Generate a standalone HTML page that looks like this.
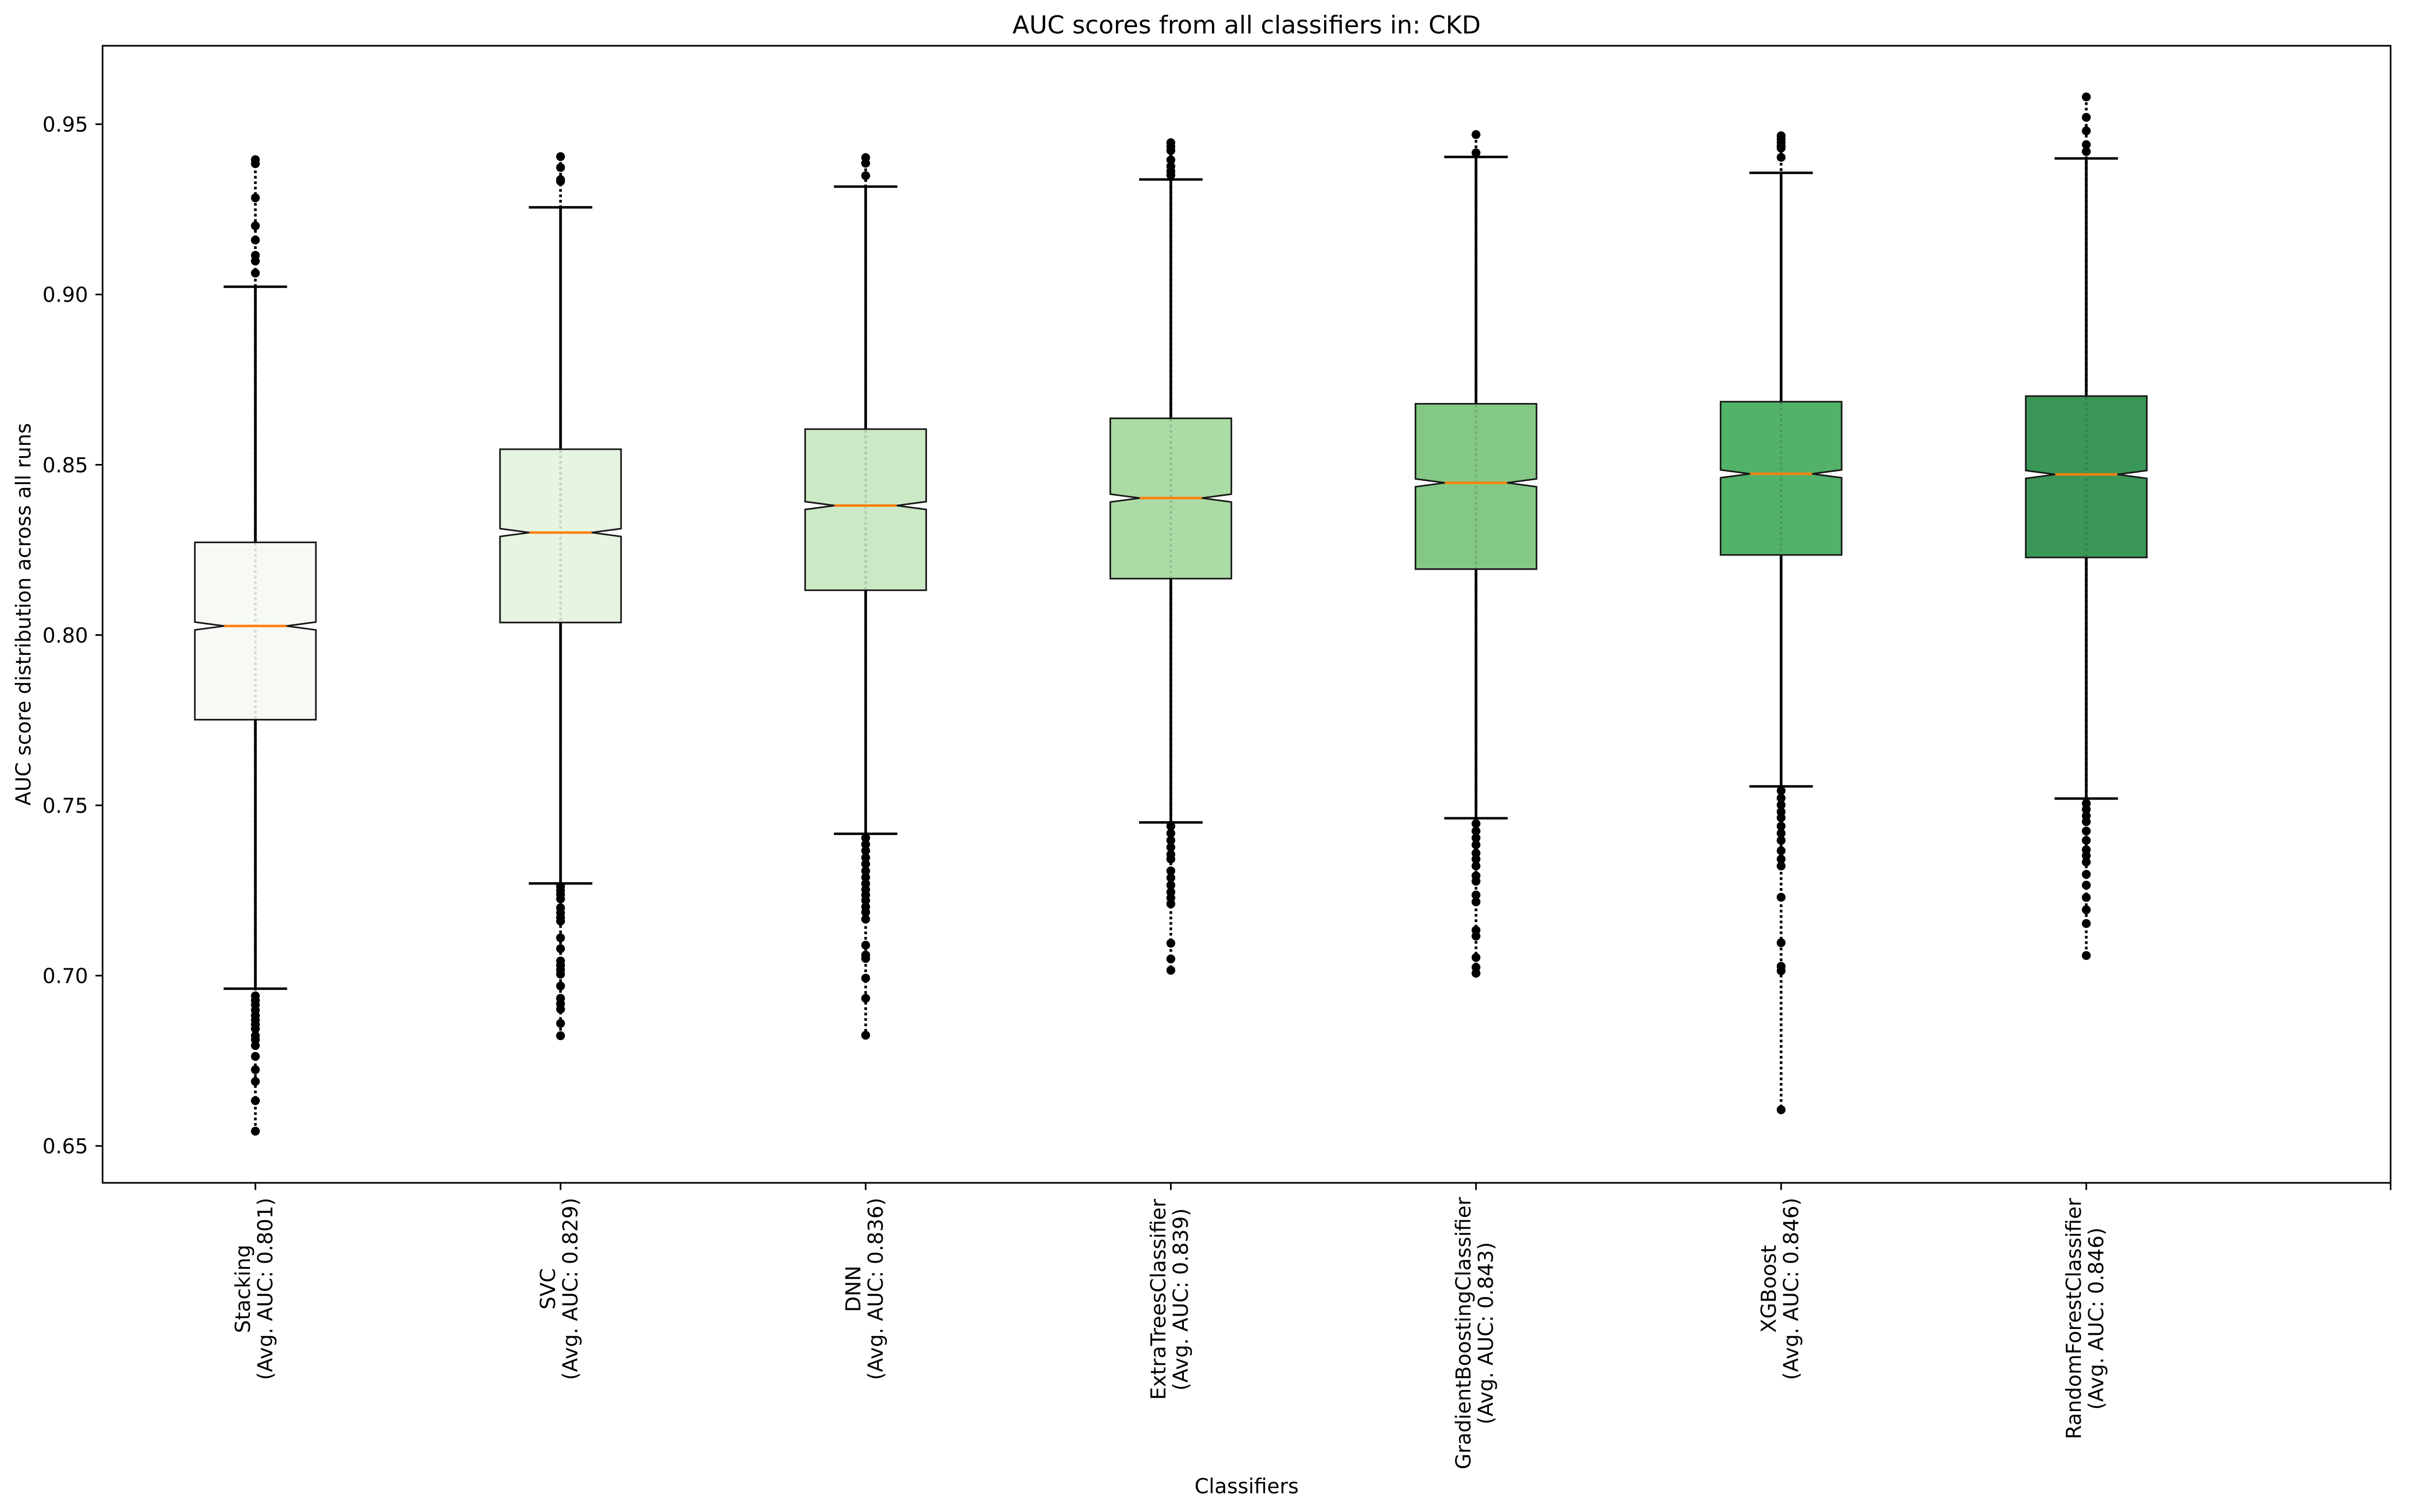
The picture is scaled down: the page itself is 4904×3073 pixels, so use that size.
<!DOCTYPE html>
<html>
<head>
<meta charset="utf-8">
<style>
html,body{margin:0;padding:0;background:#ffffff;}
svg{display:block;}
text{font-family:"DejaVu Sans","Liberation Sans",sans-serif;fill:#000;}
</style>
</head>
<body>
<svg width="4904" height="3073" viewBox="0 0 4904 3073" xmlns="http://www.w3.org/2000/svg">
<rect x="0" y="0" width="4904" height="3073" fill="#ffffff"/>

<!-- Title -->
<text x="2533.5" y="68" font-size="50" text-anchor="middle">AUC scores from all classifiers in: CKD</text>

<!-- full-range dotted data lines (black) -->
<g stroke="#000" stroke-width="5.5" stroke-dasharray="5.5 5.5" fill="none">
<line x1="519" y1="324.5" x2="519" y2="2299"/>
<line x1="1139.2" y1="318.3" x2="1139.2" y2="2105"/>
<line x1="1759.3" y1="320.3" x2="1759.3" y2="2104"/>
<line x1="2379.5" y1="290" x2="2379.5" y2="1972"/>
<line x1="2999.7" y1="273.5" x2="2999.7" y2="1978"/>
<line x1="3619.8" y1="276" x2="3619.8" y2="2255.5"/>
<line x1="4240" y1="197" x2="4240" y2="1942"/>
</g>

<!-- whiskers -->
<g stroke="#000" stroke-width="5.5" fill="none">
<line x1="519" y1="1102.3" x2="519" y2="582.7"/><line x1="519" y1="1462.7" x2="519" y2="2009.4"/>
<line x1="1139.2" y1="913" x2="1139.2" y2="421.4"/><line x1="1139.2" y1="1265.2" x2="1139.2" y2="1795.5"/>
<line x1="1759.3" y1="872.1" x2="1759.3" y2="379.2"/><line x1="1759.3" y1="1199.6" x2="1759.3" y2="1694.6"/>
<line x1="2379.5" y1="850.2" x2="2379.5" y2="364.8"/><line x1="2379.5" y1="1176" x2="2379.5" y2="1671.5"/>
<line x1="2999.7" y1="820.6" x2="2999.7" y2="319"/><line x1="2999.7" y1="1156.7" x2="2999.7" y2="1663"/>
<line x1="3619.8" y1="816.4" x2="3619.8" y2="351.3"/><line x1="3619.8" y1="1127.9" x2="3619.8" y2="1598.3"/>
<line x1="4240" y1="805" x2="4240" y2="322"/><line x1="4240" y1="1133" x2="4240" y2="1623"/>
</g>
<!-- caps -->
<g stroke="#000" stroke-width="5" fill="none">
<line x1="454.5" y1="582.7" x2="583.5" y2="582.7"/><line x1="454.5" y1="2009.4" x2="583.5" y2="2009.4"/>
<line x1="1074.7" y1="421.4" x2="1203.7" y2="421.4"/><line x1="1074.7" y1="1795.5" x2="1203.7" y2="1795.5"/>
<line x1="1694.8" y1="379.2" x2="1823.8" y2="379.2"/><line x1="1694.8" y1="1694.6" x2="1823.8" y2="1694.6"/>
<line x1="2315" y1="364.8" x2="2444" y2="364.8"/><line x1="2315" y1="1671.5" x2="2444" y2="1671.5"/>
<line x1="2935.2" y1="319" x2="3064.2" y2="319"/><line x1="2935.2" y1="1663" x2="3064.2" y2="1663"/>
<line x1="3555.3" y1="351.3" x2="3684.3" y2="351.3"/><line x1="3555.3" y1="1598.3" x2="3684.3" y2="1598.3"/>
<line x1="4175.5" y1="322" x2="4304.5" y2="322"/><line x1="4175.5" y1="1623" x2="4304.5" y2="1623"/>
</g>

<!-- boxes -->
<g stroke="#1a1a1a" stroke-width="3.3" stroke-linejoin="miter">
<polygon fill="#f7faf4" points="396,1462.7 396,1280.3 456,1272.3 396,1264.3 396,1102.3 642,1102.3 642,1264.3 582,1272.3 642,1280.3 642,1462.7"/>
<polygon fill="#e6f4e1" points="1016.2,1265.2 1016.2,1090.4 1076.2,1082.4 1016.2,1074.4 1016.2,913 1262.2,913 1262.2,1074.4 1202.2,1082.4 1262.2,1090.4 1262.2,1265.2"/>
<polygon fill="#cce9c6" points="1636.3,1199.6 1636.3,1035.5 1696.3,1027.5 1636.3,1019.5 1636.3,872.1 1882.3,872.1 1882.3,1019.5 1822.3,1027.5 1882.3,1035.5 1882.3,1199.6"/>
<polygon fill="#acdca5" points="2256.5,1176 2256.5,1020.3 2316.5,1012.3 2256.5,1004.3 2256.5,850.2 2502.5,850.2 2502.5,1004.3 2442.5,1012.3 2502.5,1020.3 2502.5,1176"/>
<polygon fill="#83c985" points="2876.7,1156.7 2876.7,989.3 2936.7,981.3 2876.7,973.3 2876.7,820.6 3122.7,820.6 3122.7,973.3 3062.7,981.3 3122.7,989.3 3122.7,1156.7"/>
<polygon fill="#52b26a" points="3496.8,1127.9 3496.8,971 3556.8,963 3496.8,955 3496.8,816.4 3742.8,816.4 3742.8,955 3682.8,963 3742.8,971 3742.8,1127.9"/>
<polygon fill="#3a9758" points="4117,1133 4117,972.3 4177,964.3 4117,956.3 4117,805 4363,805 4363,956.3 4303,964.3 4363,972.3 4363,1133"/>
</g>

<!-- faint dotted line inside boxes -->
<g stroke="rgba(0,0,0,0.12)" stroke-width="5.5" stroke-dasharray="5.5 5.5" fill="none">
<line x1="519" y1="1104" x2="519" y2="1461"/>
<line x1="1139.2" y1="915" x2="1139.2" y2="1263.5"/>
<line x1="1759.3" y1="874" x2="1759.3" y2="1198"/>
<line x1="2379.5" y1="852" x2="2379.5" y2="1174.3"/>
<line x1="2999.7" y1="822.3" x2="2999.7" y2="1155"/>
<line x1="3619.8" y1="818" x2="3619.8" y2="1126.2"/>
<line x1="4240" y1="806.7" x2="4240" y2="1131.3"/>
</g>

<!-- medians -->
<g stroke="#ff7f0e" stroke-width="5" fill="none">
<line x1="456" y1="1272.3" x2="582" y2="1272.3"/>
<line x1="1076.2" y1="1082.4" x2="1202.2" y2="1082.4"/>
<line x1="1696.3" y1="1027.5" x2="1822.3" y2="1027.5"/>
<line x1="2316.5" y1="1012.3" x2="2442.5" y2="1012.3"/>
<line x1="2936.7" y1="981.3" x2="3062.7" y2="981.3"/>
<line x1="3556.8" y1="963" x2="3682.8" y2="963"/>
<line x1="4177" y1="964.3" x2="4303" y2="964.3"/>
</g>

<!-- outliers -->
<g fill="#000">
<!-- Stacking -->
<circle cx="519" cy="324.5" r="9"/><circle cx="519" cy="332.7" r="9"/><circle cx="519" cy="402" r="9"/><circle cx="519" cy="459" r="9"/><circle cx="519" cy="487.8" r="9"/><circle cx="519" cy="518.9" r="9"/><circle cx="519" cy="530.6" r="9"/><circle cx="519" cy="555" r="9"/>
<circle cx="519" cy="2024" r="9"/><circle cx="519" cy="2033" r="9"/><circle cx="519" cy="2042" r="9"/><circle cx="519" cy="2053" r="9"/><circle cx="519" cy="2064" r="9"/><circle cx="519" cy="2073" r="9"/><circle cx="519" cy="2082" r="9"/><circle cx="519" cy="2091" r="9"/><circle cx="519" cy="2105" r="9"/><circle cx="519" cy="2113" r="9"/><circle cx="519" cy="2125" r="9"/><circle cx="519" cy="2147" r="9"/><circle cx="519" cy="2174" r="9"/><circle cx="519" cy="2198" r="9"/><circle cx="519" cy="2237" r="9"/><circle cx="519" cy="2299" r="9"/>
<!-- SVC -->
<circle cx="1139.2" cy="318.3" r="9"/><circle cx="1139.2" cy="340.4" r="9"/><circle cx="1139.2" cy="365" r="9"/><circle cx="1139.2" cy="368.5" r="9"/>
<circle cx="1139.2" cy="1801" r="9"/><circle cx="1139.2" cy="1810" r="9"/><circle cx="1139.2" cy="1818" r="9"/><circle cx="1139.2" cy="1827" r="9"/><circle cx="1139.2" cy="1845" r="9"/><circle cx="1139.2" cy="1855" r="9"/><circle cx="1139.2" cy="1865" r="9"/><circle cx="1139.2" cy="1872" r="9"/><circle cx="1139.2" cy="1906" r="9"/><circle cx="1139.2" cy="1928" r="9"/><circle cx="1139.2" cy="1953" r="9"/><circle cx="1139.2" cy="1962" r="9"/><circle cx="1139.2" cy="1971" r="9"/><circle cx="1139.2" cy="1980" r="9"/><circle cx="1139.2" cy="2004" r="9"/><circle cx="1139.2" cy="2029" r="9"/><circle cx="1139.2" cy="2040" r="9"/><circle cx="1139.2" cy="2051" r="9"/><circle cx="1139.2" cy="2080" r="9"/><circle cx="1139.2" cy="2105" r="9"/>
<!-- DNN -->
<circle cx="1759.3" cy="320.3" r="9"/><circle cx="1759.3" cy="331.7" r="9"/><circle cx="1759.3" cy="357.1" r="9"/>
<circle cx="1759.3" cy="1703" r="9"/><circle cx="1759.3" cy="1716" r="9"/><circle cx="1759.3" cy="1729" r="9"/><circle cx="1759.3" cy="1743" r="9"/><circle cx="1759.3" cy="1756" r="9"/><circle cx="1759.3" cy="1770" r="9"/><circle cx="1759.3" cy="1783" r="9"/><circle cx="1759.3" cy="1796" r="9"/><circle cx="1759.3" cy="1808" r="9"/><circle cx="1759.3" cy="1819" r="9"/><circle cx="1759.3" cy="1830" r="9"/><circle cx="1759.3" cy="1843" r="9"/><circle cx="1759.3" cy="1854" r="9"/><circle cx="1759.3" cy="1868" r="9"/><circle cx="1759.3" cy="1921" r="9"/><circle cx="1759.3" cy="1941" r="9"/><circle cx="1759.3" cy="1948" r="9"/><circle cx="1759.3" cy="1988" r="9"/><circle cx="1759.3" cy="2029" r="9"/><circle cx="1759.3" cy="2104" r="9"/>
<!-- ExtraTrees -->
<circle cx="2379.5" cy="290" r="9"/><circle cx="2379.5" cy="298" r="9"/><circle cx="2379.5" cy="306" r="9"/><circle cx="2379.5" cy="325" r="9"/><circle cx="2379.5" cy="338" r="9"/><circle cx="2379.5" cy="348" r="9"/><circle cx="2379.5" cy="356" r="9"/>
<circle cx="2379.5" cy="1679" r="9"/><circle cx="2379.5" cy="1693.5" r="9"/><circle cx="2379.5" cy="1708" r="9"/><circle cx="2379.5" cy="1722" r="9"/><circle cx="2379.5" cy="1736.5" r="9"/><circle cx="2379.5" cy="1746" r="9"/><circle cx="2379.5" cy="1770" r="9"/><circle cx="2379.5" cy="1784" r="9"/><circle cx="2379.5" cy="1799" r="9"/><circle cx="2379.5" cy="1813" r="9"/><circle cx="2379.5" cy="1825" r="9"/><circle cx="2379.5" cy="1837" r="9"/><circle cx="2379.5" cy="1917" r="9"/><circle cx="2379.5" cy="1949" r="9"/><circle cx="2379.5" cy="1972" r="9"/>
<!-- GradientBoosting -->
<circle cx="2999.7" cy="273.5" r="9"/><circle cx="2999.7" cy="310.6" r="9"/>
<circle cx="2999.7" cy="1674" r="9"/><circle cx="2999.7" cy="1689" r="9"/><circle cx="2999.7" cy="1703" r="9"/><circle cx="2999.7" cy="1717" r="9"/><circle cx="2999.7" cy="1734" r="9"/><circle cx="2999.7" cy="1746" r="9"/><circle cx="2999.7" cy="1760" r="9"/><circle cx="2999.7" cy="1780" r="9"/><circle cx="2999.7" cy="1791" r="9"/><circle cx="2999.7" cy="1819" r="9"/><circle cx="2999.7" cy="1833" r="9"/><circle cx="2999.7" cy="1890.6" r="9"/><circle cx="2999.7" cy="1902.5" r="9"/><circle cx="2999.7" cy="1946" r="9"/><circle cx="2999.7" cy="1966" r="9"/><circle cx="2999.7" cy="1978" r="9"/>
<!-- XGBoost -->
<circle cx="3619.8" cy="276" r="9"/><circle cx="3619.8" cy="283" r="9"/><circle cx="3619.8" cy="290" r="9"/><circle cx="3619.8" cy="297" r="9"/><circle cx="3619.8" cy="301" r="9"/><circle cx="3619.8" cy="319.8" r="9"/>
<circle cx="3619.8" cy="1607" r="9"/><circle cx="3619.8" cy="1622" r="9"/><circle cx="3619.8" cy="1636" r="9"/><circle cx="3619.8" cy="1650" r="9"/><circle cx="3619.8" cy="1662" r="9"/><circle cx="3619.8" cy="1679" r="9"/><circle cx="3619.8" cy="1693.5" r="9"/><circle cx="3619.8" cy="1708" r="9"/><circle cx="3619.8" cy="1729" r="9"/><circle cx="3619.8" cy="1746" r="9"/><circle cx="3619.8" cy="1760" r="9"/><circle cx="3619.8" cy="1823.6" r="9"/><circle cx="3619.8" cy="1916" r="9"/><circle cx="3619.8" cy="1964" r="9"/><circle cx="3619.8" cy="1973" r="9"/><circle cx="3619.8" cy="2255.5" r="9"/>
<!-- RandomForest -->
<circle cx="4240" cy="197" r="9"/><circle cx="4240" cy="238.5" r="9"/><circle cx="4240" cy="266" r="9"/><circle cx="4240" cy="294" r="9"/><circle cx="4240" cy="308" r="9"/>
<circle cx="4240" cy="1633" r="9"/><circle cx="4240" cy="1645" r="9"/><circle cx="4240" cy="1658" r="9"/><circle cx="4240" cy="1670" r="9"/><circle cx="4240" cy="1689" r="9"/><circle cx="4240" cy="1708" r="9"/><circle cx="4240" cy="1727" r="9"/><circle cx="4240" cy="1739" r="9"/><circle cx="4240" cy="1752" r="9"/><circle cx="4240" cy="1777" r="9"/><circle cx="4240" cy="1799" r="9"/><circle cx="4240" cy="1824" r="9"/><circle cx="4240" cy="1849" r="9"/><circle cx="4240" cy="1877" r="9"/><circle cx="4240" cy="1942" r="9"/>
</g>

<!-- axes frame -->
<rect x="208.5" y="93" width="4650" height="2311" fill="none" stroke="#000" stroke-width="3.3"/>

<!-- y ticks -->
<g stroke="#000" stroke-width="3.3">
<line x1="194" y1="252.4" x2="208.5" y2="252.4"/>
<line x1="194" y1="598.5" x2="208.5" y2="598.5"/>
<line x1="194" y1="944.6" x2="208.5" y2="944.6"/>
<line x1="194" y1="1290.7" x2="208.5" y2="1290.7"/>
<line x1="194" y1="1636.8" x2="208.5" y2="1636.8"/>
<line x1="194" y1="1982.9" x2="208.5" y2="1982.9"/>
<line x1="194" y1="2329" x2="208.5" y2="2329"/>
</g>
<g font-size="41.67" text-anchor="end">
<text x="179" y="267.6">0.95</text>
<text x="179" y="613.7">0.90</text>
<text x="179" y="959.8">0.85</text>
<text x="179" y="1305.9">0.80</text>
<text x="179" y="1652">0.75</text>
<text x="179" y="1998.1">0.70</text>
<text x="179" y="2344.2">0.65</text>
</g>

<!-- x ticks -->
<g stroke="#000" stroke-width="3.3">
<line x1="519" y1="2404" x2="519" y2="2418.6"/>
<line x1="1139.2" y1="2404" x2="1139.2" y2="2418.6"/>
<line x1="1759.3" y1="2404" x2="1759.3" y2="2418.6"/>
<line x1="2379.5" y1="2404" x2="2379.5" y2="2418.6"/>
<line x1="2999.7" y1="2404" x2="2999.7" y2="2418.6"/>
<line x1="3619.8" y1="2404" x2="3619.8" y2="2418.6"/>
<line x1="4240" y1="2404" x2="4240" y2="2418.6"/>
<line x1="4858.5" y1="2404" x2="4858.5" y2="2418.6"/>
</g>

<!-- x tick labels (rotated) -->
<g font-size="41.67" text-anchor="middle">
<text transform="translate(519,2619.5) rotate(-90)"><tspan x="0" y="-11">Stacking</tspan><tspan x="0" y="34.5">(Avg. AUC: 0.801)</tspan></text>
<text transform="translate(1139.2,2619.5) rotate(-90)"><tspan x="0" y="-11">SVC</tspan><tspan x="0" y="34.5">(Avg. AUC: 0.829)</tspan></text>
<text transform="translate(1759.3,2619.5) rotate(-90)"><tspan x="0" y="-11">DNN</tspan><tspan x="0" y="34.5">(Avg. AUC: 0.836)</tspan></text>
<text transform="translate(2379.5,2641) rotate(-90)"><tspan x="0" y="-11">ExtraTreesClassifier</tspan><tspan x="0" y="34.5">(Avg. AUC: 0.839)</tspan></text>
<text transform="translate(2999.7,2709.7) rotate(-90)"><tspan x="0" y="-11">GradientBoostingClassifier</tspan><tspan x="0" y="34.5">(Avg. AUC: 0.843)</tspan></text>
<text transform="translate(3619.8,2619.5) rotate(-90)"><tspan x="0" y="-11">XGBoost</tspan><tspan x="0" y="34.5">(Avg. AUC: 0.846)</tspan></text>
<text transform="translate(4240,2680) rotate(-90)"><tspan x="0" y="-11">RandomForestClassifier</tspan><tspan x="0" y="34.5">(Avg. AUC: 0.846)</tspan></text>
</g>

<!-- axis labels -->
<text x="2533.5" y="3035" font-size="41.67" text-anchor="middle">Classifiers</text>
<text transform="translate(62,1248.5) rotate(-90)" font-size="41.67" text-anchor="middle">AUC score distribution across all runs</text>
</svg>
</body>
</html>
